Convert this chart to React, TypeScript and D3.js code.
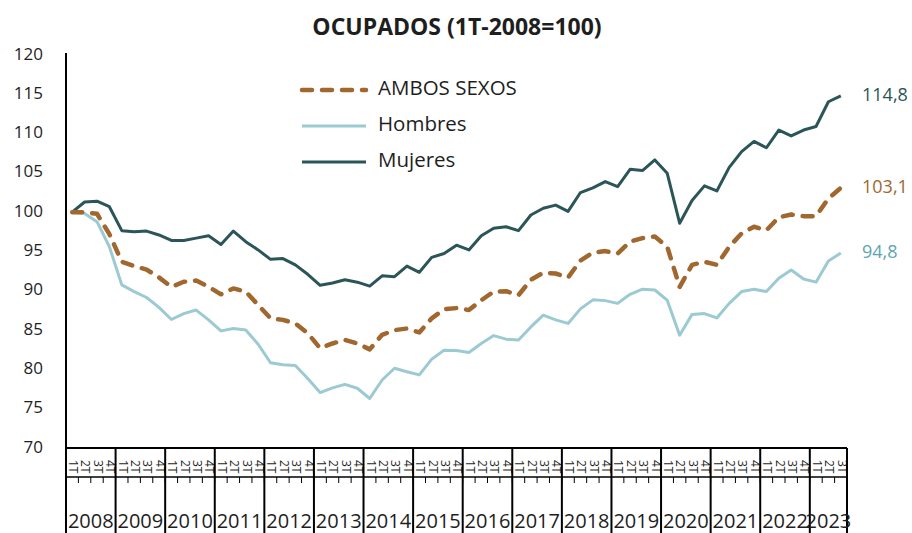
import * as d3 from 'd3'

const years = ['2008', '2009', '2010', '2011', '2012', '2013', '2014', '2015', '2016', '2017', '2018', '2019', '2020', '2021', '2022', '2023']
const quarterLabels = ['1T', '2T', '3T', '4T']
const yTicks = [70, 75, 80, 85, 90, 95, 100, 105, 110, 115, 120]

// Índices 1T-2008 = 100, de 1T-2008 a 3T-2023
const ambos = [100, 100, 99.8, 97.2, 93.7, 93.15, 92.7, 91.7, 90.5, 91.15, 91.3, 90.5, 89.55, 90.3, 89.9, 88.2, 86.5, 86.3, 85.85, 84.6, 82.7, 83.3, 83.75, 83.3, 82.55, 84.4, 85.0, 85.2, 84.7, 86.5, 87.65, 87.8, 87.55, 88.8, 89.9, 89.95, 89.45, 91.4, 92.3, 92.2, 91.7, 93.85, 94.85, 95.05, 94.75, 96.25, 96.7, 96.9, 95.6, 90.5, 93.3, 93.7, 93.3, 95.6, 97.3, 98.15, 97.7, 99.35, 99.7, 99.5, 99.5, 101.75, 103.1]
const hombres = [100, 99.85, 98.8, 95.6, 90.75, 89.9, 89.15, 87.9, 86.35, 87.1, 87.55, 86.3, 84.9, 85.2, 85.0, 83.2, 80.85, 80.6, 80.5, 78.85, 77.05, 77.65, 78.1, 77.6, 76.3, 78.65, 80.15, 79.7, 79.3, 81.3, 82.45, 82.4, 82.15, 83.3, 84.3, 83.85, 83.75, 85.4, 86.9, 86.3, 85.85, 87.7, 88.85, 88.75, 88.4, 89.55, 90.2, 90.1, 88.8, 84.35, 87.0, 87.1, 86.55, 88.4, 89.9, 90.2, 89.9, 91.6, 92.65, 91.5, 91.1, 93.8, 94.8]
const mujeres = [100, 101.3, 101.4, 100.7, 97.65, 97.5, 97.6, 97.1, 96.4, 96.4, 96.7, 97.0, 95.9, 97.6, 96.25, 95.2, 94.0, 94.1, 93.3, 92.1, 90.7, 91.0, 91.4, 91.1, 90.6, 91.9, 91.8, 93.15, 92.35, 94.25, 94.75, 95.8, 95.2, 97.0, 97.95, 98.15, 97.65, 99.65, 100.5, 100.9, 100.1, 102.5, 103.1, 103.9, 103.25, 105.45, 105.3, 106.65, 104.95, 98.6, 101.5, 103.35, 102.7, 105.7, 107.7, 109.0, 108.2, 110.45, 109.7, 110.45, 110.9, 114.05, 114.8]

const series = [
  { name: 'AMBOS SEXOS', values: ambos, color: '#a0682f', labelColor: '#a0682f', width: 4.5, dash: '10,10' },
  { name: 'Hombres', values: hombres, color: '#9ccad2', labelColor: '#5ea5b2', width: 3, dash: null },
  { name: 'Mujeres', values: mujeres, color: '#2b5558', labelColor: '#2b5558', width: 3, dash: null },
]

const W = 912
const H = 533
const left = 66
const right = 847
const top = 55
const axisY = 448
const font = '"Open Sans", "DejaVu Sans", sans-serif'
const textColor = '#1e1e1e'

export default function App() {
  const n = ambos.length
  const x = d3.scaleBand<number>().domain(d3.range(n)).range([left, right]).padding(0)
  const y = d3.scaleLinear().domain([70, 120]).range([axisY, top])
  const cx = (i: number) => (x(i) as number) + x.bandwidth() / 2

  const line = d3.line<number>()
    .x((_, i) => cx(i))
    .y(d => y(d))

  const step = x.step()
  const yearEdge = (k: number) => Math.min(left + k * 4 * step, right)

  return (
    <svg width={W} height={H} style={{ position: 'absolute', left: 0, top: 0, background: '#fff' }}>
      <text x={457} y={35} textAnchor="middle" fontFamily={font} fontWeight="bold" fontSize={23} fill={textColor}>
        OCUPADOS (1T-2008=100)
      </text>

      {/* eje Y */}
      {yTicks.map(t => (
        <text key={t} x={43} y={y(t)} textAnchor="end" dominantBaseline="middle" fontFamily={font} fontSize={17} fill={textColor}>
          {t}
        </text>
      ))}
      <line x1={left} x2={left} y1={53} y2={H} stroke="#000" strokeWidth={2} />
      <line x1={left} x2={right} y1={axisY} y2={axisY} stroke="#000" strokeWidth={2} />

      {/* eje de categorías multinivel */}
      <line x1={left} x2={right} y1={477} y2={477} stroke="#000" strokeWidth={1.5} />
      {d3.range(n).map(i => (
        <line key={'t' + i} x1={x(i) as number} x2={x(i) as number} y1={477} y2={483} stroke="#000" strokeWidth={1} />
      ))}
      {d3.range(n).map(i => (
        <text key={'q' + i} transform={`translate(${cx(i)},${460}) rotate(90)`} fontFamily={font} fontSize={12}
          dominantBaseline="middle" fill={textColor}>
          {quarterLabels[i % 4]}
        </text>
      ))}
      {years.map((yr, k) => (
        <line key={'s' + yr} x1={yearEdge(k + 1)} x2={yearEdge(k + 1)} y1={axisY} y2={H} stroke="#000" strokeWidth={2} />
      ))}
      {years.map((yr, k) => (
        <text key={yr} x={(yearEdge(k) + yearEdge(k + 1)) / 2} y={528} textAnchor="middle" fontFamily={font} fontSize={20} fill={textColor}>
          {yr}
        </text>
      ))}

      {/* series */}
      {series.slice().reverse().map(s => (
        <path key={s.name} d={line(s.values) || ''} fill="none" stroke={s.color} strokeWidth={s.width}
          strokeDasharray={s.dash || undefined} strokeLinecap={s.dash ? 'round' : 'butt'} strokeLinejoin="round" />
      ))}

      {/* etiquetas finales */}
      {series.map(s => (
        <text key={'e' + s.name} x={862} y={y(s.values[n - 1])} dominantBaseline="middle" fontFamily={font} fontSize={18} fill={s.labelColor}>
          {String(s.values[n - 1]).replace('.', ',')}
        </text>
      ))}

      {/* leyenda */}
      {series.map((s, k) => (
        <g key={'l' + s.name} transform={`translate(302,${90 + k * 36})`}>
          <line x1={0} x2={64} y1={0} y2={0} stroke={s.color} strokeWidth={s.width}
            strokeDasharray={s.dash || undefined} strokeLinecap={s.dash ? 'round' : 'butt'} />
          <text x={76} y={0} dominantBaseline="middle" fontFamily={font} fontSize={20.5} fill={textColor}>{s.name}</text>
        </g>
      ))}
    </svg>
  )
}
